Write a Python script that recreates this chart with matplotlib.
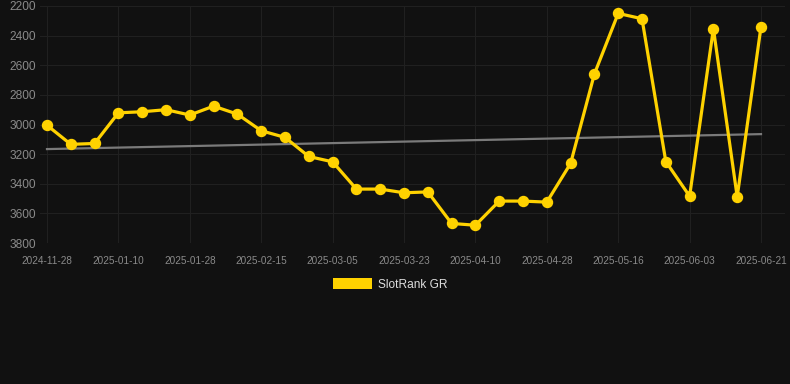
import matplotlib.pyplot as plt
from matplotlib.patches import Patch

plt.rcParams['font.family'] = ['Liberation Sans', 'DejaVu Sans']

dates = ["2024-11-28", "2024-12-13", "2024-12-27",
         "2025-01-10", "2025-01-16", "2025-01-22", "2025-01-28", "2025-02-03",
         "2025-02-09", "2025-02-15", "2025-02-21", "2025-02-27", "2025-03-05",
         "2025-03-11", "2025-03-17", "2025-03-23", "2025-03-29", "2025-04-04",
         "2025-04-10", "2025-04-16", "2025-04-22", "2025-04-28", "2025-05-04",
         "2025-05-10", "2025-05-16", "2025-05-22", "2025-05-28", "2025-06-03",
         "2025-06-09", "2025-06-15", "2025-06-21"]
rank = [3005, 3134, 3128, 2921, 2914, 2900, 2936, 2876, 2930, 3042, 3087,
        3216, 3252, 3436, 3436, 3461, 3455, 3668, 3680, 3517, 3517, 3524,
        3263, 2659, 2250, 2286, 3250, 3484, 2353, 3488, 2340]
trend = [3166, 3065]   # start / end of the trend line

bg = "#111111"
gold = "#ffd200"

fig = plt.figure(figsize=(7.9, 3.84), dpi=100, facecolor=bg)
ax = fig.add_axes([40 / 790, 1 - 243 / 384, 745 / 790, 237 / 384], facecolor=bg)

x = list(range(len(dates)))
ax.plot([x[0], x[-1]], trend, color="#7a7a7a", lw=1.6, zorder=2)
ax.plot(x, rank, color=gold, lw=2.3, marker="o", ms=7.2,
        solid_joinstyle="miter", zorder=3)

ax.set_ylim(3800, 2200)
ax.set_yticks(range(2200, 3801, 200))
ax.set_xlim(-7 / 23.8, 30 + 24 / 23.8)
ax.set_xticks(x[::3])
ax.set_xticklabels(dates[::3])

ax.grid(True, color="#202020", lw=0.8)
ax.set_axisbelow(True)
for s in ax.spines.values():
    s.set_visible(False)
ax.tick_params(axis="both", length=0, colors="#8a8a8a")
ax.tick_params(axis="y", labelsize=8.6, pad=3)
ax.tick_params(axis="x", labelsize=7.2, pad=9)

fig.legend(handles=[Patch(facecolor=gold, edgecolor="none", label="SlotRank GR")],
           loc="center", bbox_to_anchor=(390 / 790, 1 - 284.5 / 384),
           frameon=False, fontsize=8.6, labelcolor="#dddddd",
           handlelength=3.3, handleheight=1.0, handletextpad=0.5)

fig.savefig("out.png", dpi=100, facecolor=bg)
